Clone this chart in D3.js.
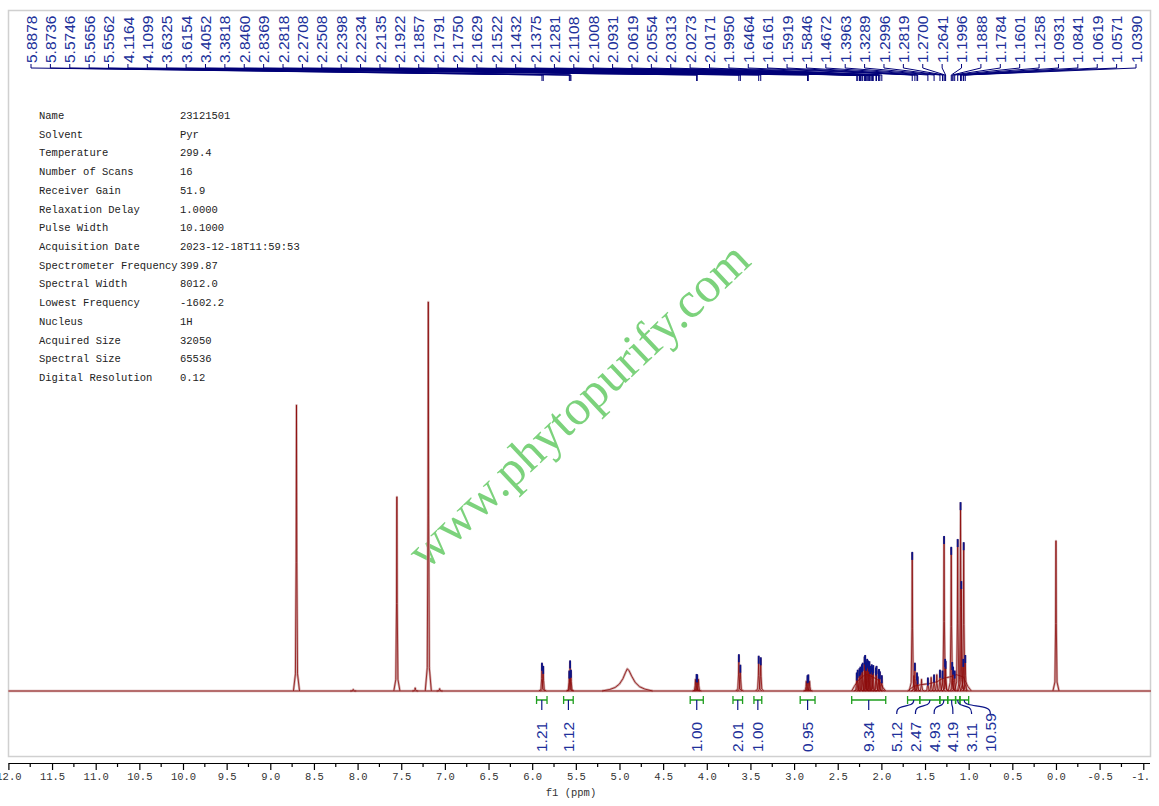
<!DOCTYPE html>
<html>
<head>
<meta charset="utf-8">
<script src="https://cdn.jsdelivr.net/npm/d3@7"></script>
<style>
  body { margin: 0; background: #fff; }
</style>
</head>
<body>
<div id="chart"></div>
<script>
// picked peaks (ppm) and their heights (relative, 7.19 solvent peak = 100)
const peakPpm = [5.8878, 5.8736, 5.5746, 5.5656, 5.5562, 4.1164, 4.1099, 3.6325, 3.6154, 3.4052,
  3.3818, 2.8460, 2.8369, 2.2818, 2.2708, 2.2508, 2.2398, 2.2234, 2.2135, 2.1922,
  2.1857, 2.1791, 2.1750, 2.1629, 2.1522, 2.1432, 2.1375, 2.1281, 2.1108, 2.1008,
  2.0931, 2.0619, 2.0554, 2.0313, 2.0273, 2.0171, 1.9950, 1.6464, 1.6161, 1.5919,
  1.5846, 1.4672, 1.3963, 1.3289, 1.2996, 1.2819, 1.2700, 1.2641, 1.1996, 1.1888,
  1.1784, 1.1601, 1.1258, 1.0931, 1.0841, 1.0619, 1.0571, 1.0390];
const peakHeight = [7.0, 6.2, 5.0, 7.6, 5.2, 4.1, 4.0, 9.2, 6.5, 8.8,
  8.4, 3.8, 4.0, 4.5, 5.2, 5.6, 6.0, 6.6, 7.0, 8.6,
  9.0, 7.5, 7.0, 8.0, 7.6, 6.8, 7.4, 6.2, 6.6, 6.0,
  6.4, 5.8, 6.2, 5.0, 5.4, 4.8, 3.8, 35.5, 7.0, 4.5,
  3.5, 3.2, 4.0, 5.2, 5.0, 39.6, 8.0, 7.5, 36.8, 7.2,
  6.0, 5.0, 38.8, 48.3, 28.0, 8.0, 38.0, 9.0];

// unpicked lines: solvent (pyridine), TMS, small extras
const otherPpm = [8.70, 7.55, 7.19, 0.00, 7.34, 7.06, 8.05, 4.130, 4.095, 2.860, 2.822, 1.628, 1.540, 1.430, 1.365];
const otherHeight = [73.5, 49.9, 100, 38.6, 0.8, 0.6, 0.4, 3.0, 3.0, 2.5, 2.5, 4.0, 3.0, 3.5, 4.2];

// broad exchangeable peak and the multiplet envelopes [ppm, height]
const waterShape = [[5.20, 0], [5.11, 0.4], [5.05, 0.9], [5.00, 1.8], [4.96, 3.2], [4.93, 4.8], [4.91, 5.7],
  [4.89, 5.2], [4.86, 3.8], [4.82, 2.2], [4.77, 1.1], [4.71, 0.5], [4.62, 0]];
const humpA = [[2.34, 0], [2.31, 1.2], [2.27, 2.6], [2.22, 3.6], [2.18, 4.3], [2.14, 4.0], [2.10, 3.6],
  [2.05, 3.0], [2.01, 2.2], [1.98, 0.8], [1.95, 0]];
const humpB = [[1.70, 0], [1.63, 1.2], [1.55, 1.6], [1.45, 1.9], [1.36, 2.4], [1.30, 3.2], [1.22, 3.6],
  [1.14, 4.2], [1.06, 3.6], [1.01, 1.2], [0.97, 0]];

// integrals
const integralFrom = [5.95, 5.64, 4.19, 3.70, 3.46, 2.93, 2.34, 1.70, 1.56, 1.33, 1.24, 1.15, 1.10];
const integralTo = [5.83, 5.53, 4.04, 3.59, 3.37, 2.76, 1.95, 1.56, 1.33, 1.24, 1.15, 1.10, 1.00];
const integralValue = ["1.21", "1.12", "1.00", "2.01", "1.00", "0.95", "9.34", "5.12", "2.47", "4.93", "4.19", "3.11", "10.59"];

const majorTicks = [12.0, 11.5, 11.0, 10.5, 10.0, 9.5, 9.0, 8.5, 8.0, 7.5, 7.0, 6.5, 6.0, 5.5, 5.0,
  4.5, 4.0, 3.5, 3.0, 2.5, 2.0, 1.5, 1.0, 0.5, 0.0, -0.5, -1.0];

const paramNames = ["Name", "Solvent", "Temperature", "Number of Scans", "Receiver Gain", "Relaxation Delay",
  "Pulse Width", "Acquisition Date", "Spectrometer Frequency", "Spectral Width", "Lowest Frequency",
  "Nucleus", "Acquired Size", "Spectral Size", "Digital Resolution"];
const paramValues = ["23121501", "Pyr", "299.4", "16", "51.9", "1.0000", "10.1000", "2023-12-18T11:59:53",
  "399.87", "8012.0", "-1602.2", "1H", "32050", "65536", "0.12"];

const width = 1159, height = 806;
const mono = "'Liberation Mono', 'DejaVu Sans Mono', monospace";
const sans = "'Liberation Sans', Arial, sans-serif";
const labelBlue = "#20309a";
const markBlue = "#0c1588";

const svg = d3.select("#chart").append("svg")
  .attr("width", width)
  .attr("height", height);

const x = d3.scaleLinear().domain([12.0, -1.1]).range([8.4, 1152]);
const y = d3.scaleLinear().domain([0, 100]).range([691, 302]);

const defs = svg.append("defs");
defs.append("clipPath").attr("id", "plotclip")
  .append("rect").attr("x", 8).attr("y", 10).attr("width", 1143).attr("height", 746);
// axis group is translated, so this rect is in its local coordinates
defs.append("clipPath").attr("id", "axisclip")
  .append("rect").attr("x", 0).attr("y", -5).attr("width", 1150).attr("height", 40);

// frame
svg.append("rect")
  .attr("x", 8.5).attr("y", 10.5)
  .attr("width", 1142).attr("height", 746)
  .attr("fill", "none")
  .attr("stroke", "#d0d0d0")
  .attr("stroke-width", 1.5);

// parameter table
const table = svg.append("g")
  .attr("font-family", mono)
  .attr("font-size", "10.5px")
  .attr("fill", "#222");
paramNames.forEach((n, i) => {
  table.append("text").attr("x", 39).attr("y", 119 + i * 18.72).text(n);
  table.append("text").attr("x", 180).attr("y", 119 + i * 18.72).text(paramValues[i]);
});

// watermark
svg.append("text")
  .attr("transform", "translate(582,409) rotate(-43.3)")
  .attr("text-anchor", "middle")
  .attr("dy", "0.22em")
  .attr("font-family", "'Liberation Serif', 'Times New Roman', serif")
  .attr("font-size", "50px")
  .attr("fill", "#7cd27c")
  .text("www.phytopurify.com");

// spectrum
const line = d3.line().x(d => x(d[0])).y(d => y(d[1]));
const peakShape = (p, h) => [[p + 0.035, 0], [p + 0.012, h * 0.06], [p + 0.004, h * 0.45], [p, h],
  [p - 0.004, h * 0.45], [p - 0.012, h * 0.06], [p - 0.035, 0]];

const traces = [[[12.0, 0], [-1.1, 0]], waterShape, humpA, humpB];
otherPpm.forEach((p, i) => traces.push(peakShape(p, otherHeight[i])));
peakPpm.forEach((p, i) => traces.push(peakShape(p, peakHeight[i])));

const spec = svg.append("g").attr("clip-path", "url(#plotclip)");
spec.append("g").selectAll("path")
  .data(traces)
  .join("path")
  .attr("d", line)
  .attr("fill", "none")
  .attr("stroke", "#d2aeae")
  .attr("stroke-width", 2.4)
  .attr("stroke-linejoin", "round");
spec.append("g").selectAll("path")
  .data(traces)
  .join("path")
  .attr("d", line)
  .attr("fill", "none")
  .attr("stroke", "#8b0a0a")
  .attr("stroke-width", 0.8)
  .attr("stroke-linejoin", "round");

// peak-pick markers on the tops
spec.append("g").selectAll("line")
  .data(peakPpm)
  .join("line")
  .attr("x1", d => x(d)).attr("x2", d => x(d))
  .attr("y1", (d, i) => y(peakHeight[i]) - 1)
  .attr("y2", (d, i) => y(peakHeight[i]) + 7)
  .attr("stroke", markBlue)
  .attr("stroke-width", 1.8);

// peak labels along the top, spread evenly and tied to their peaks
const labelX = i => 31 + i * (1136 - 31) / (peakPpm.length - 1);
svg.append("g").selectAll("path")
  .data(peakPpm)
  .join("path")
  .attr("d", (d, i) => d3.line()([[labelX(i), 64], [labelX(i), 68], [x(d), 75], [x(d), 81]]))
  .attr("fill", "none")
  .attr("stroke", "#000078")
  .attr("stroke-width", 1);

svg.append("g").selectAll("text")
  .data(peakPpm)
  .join("text")
  .attr("transform", (d, i) => `translate(${labelX(i)},63) rotate(-90)`)
  .attr("dy", "0.36em")
  .attr("font-family", sans)
  .attr("font-size", "15.5px")
  .attr("fill", labelBlue)
  .text(d => d.toFixed(4));

// integrals
const integ = integralFrom.map((f, i) => ({
  from: f, to: integralTo[i], value: integralValue[i],
  cx: (x(f) + x(integralTo[i])) / 2
}));
// spread labels that would collide
const gap = 18.7;
integ.forEach(d => d.lx = d.cx);
let groups = integ.map(d => [d]);
let merged = true;
while (merged) {
  merged = false;
  for (let g = 0; g < groups.length - 1; g++) {
    const a = groups[g], b = groups[g + 1];
    const aEnd = a[a.length - 1].lx, bStart = b[0].lx;
    if (bStart - aEnd < gap) {
      const all = a.concat(b);
      const mean = d3.mean(all, d => d.cx);
      all.forEach((d, k) => d.lx = mean + (k - (all.length - 1) / 2) * gap);
      groups.splice(g, 2, all);
      merged = true;
      break;
    }
  }
}

const ig = svg.append("g");
ig.selectAll("path.br")
  .data(integ)
  .join("path")
  .attr("class", "br")
  .attr("d", d => `M${x(d.from)},696V704M${x(d.from)},700H${x(d.to)}M${x(d.to)},696V704`)
  .attr("fill", "none")
  .attr("stroke", "#1f9e1f")
  .attr("stroke-width", 1.3);

ig.selectAll("path.lead")
  .data(integ)
  .join("path")
  .attr("class", "lead")
  .attr("d", d => {
    if (Math.abs(d.lx - d.cx) < 1) return `M${d.cx},700V710`;
    return d3.line().curve(d3.curveBasis)([[d.cx, 700], [d.cx, 705], [d.lx, 707], [d.lx, 714]]);
  })
  .attr("fill", "none")
  .attr("stroke", markBlue)
  .attr("stroke-width", 1.2);

ig.selectAll("text")
  .data(integ)
  .join("text")
  .attr("transform", d => `translate(${d.lx},752) rotate(-90)`)
  .attr("dy", "0.36em")
  .attr("font-family", sans)
  .attr("font-size", "15.5px")
  .attr("fill", labelBlue)
  .text(d => d.value);

// x axis
const axisG = svg.append("g")
  .attr("transform", "translate(0,763)")
  .attr("clip-path", "url(#axisclip)");
const axisInner = axisG.append("g");
axisInner.call(d3.axisBottom(x)
  .tickValues(majorTicks)
  .tickSize(7)
  .tickSizeOuter(0)
  .tickFormat(d => d.toFixed(1)));
axisInner.selectAll("text")
  .attr("font-family", mono)
  .attr("font-size", "10.5px")
  .attr("fill", "#333");
axisInner.select(".domain").attr("stroke-width", 1.2);
axisInner.selectAll(".tick line").attr("stroke-width", 1.2);

axisG.append("g").selectAll("line")
  .data(majorTicks.slice(0, -1).map(d => d - 0.25))
  .join("line")
  .attr("x1", d => x(d)).attr("x2", d => x(d))
  .attr("y1", 0).attr("y2", 4)
  .attr("stroke", "#000")
  .attr("stroke-width", 1.2);

svg.append("text")
  .attr("x", 571)
  .attr("y", 796)
  .attr("text-anchor", "middle")
  .attr("font-family", mono)
  .attr("font-size", "10.5px")
  .attr("fill", "#333")
  .text("f1 (ppm)");
</script>
</body>
</html>
